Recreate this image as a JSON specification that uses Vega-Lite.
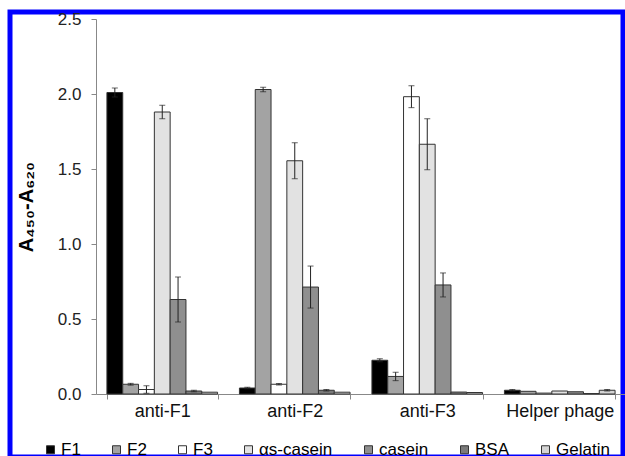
{
  "$schema": "https://vega.github.io/schema/vega-lite/v6.json",
  "width": 613,
  "height": 445,
  "autosize": {"type": "none"},
  "padding": {"left": 10, "top": 12, "right": 2, "bottom": 0},
  "background": "white",
  "config": {
    "view": {"stroke": "#0000ff", "strokeWidth": 5},
    "font": "Liberation Sans",
    "axis": {"domainColor": "#888888", "tickColor": "#888888", "labelFont": "Liberation Sans", "labelColor": "#222222", "grid": false, "tickSize": 5, "labelFontSize": 17},
    "axisX": {"offset": -63, "labelPadding": 3, "tickBand": "extent", "labelAngle": 0, "labelColor": "#111111", "labelFontSize": 18},
    "axisY": {"offset": -86, "labelPadding": 10, "titlePadding": 21, "titleFont": "Liberation Sans", "titleFontSize": 20, "titleFontWeight": "bold", "titleColor": "#000000"}
  },
  "data": {"values": [
    {"group": "anti-F1", "series": "F1", "value": 2.01, "lo": 1.98, "hi": 2.04},
    {"group": "anti-F1", "series": "F2", "value": 0.065, "lo": 0.059, "hi": 0.071},
    {"group": "anti-F1", "series": "F3", "value": 0.03, "lo": 0.005, "hi": 0.055},
    {"group": "anti-F1", "series": "αs-casein", "value": 1.88, "lo": 1.835, "hi": 1.925},
    {"group": "anti-F1", "series": "casein", "value": 0.63, "lo": 0.48, "hi": 0.78},
    {"group": "anti-F1", "series": "BSA", "value": 0.02, "lo": 0.015, "hi": 0.025},
    {"group": "anti-F1", "series": "Gelatin", "value": 0.012},
    {"group": "anti-F2", "series": "F1", "value": 0.04, "lo": 0.035, "hi": 0.045},
    {"group": "anti-F2", "series": "F2", "value": 2.03, "lo": 2.015, "hi": 2.045},
    {"group": "anti-F2", "series": "F3", "value": 0.065, "lo": 0.06, "hi": 0.07},
    {"group": "anti-F2", "series": "αs-casein", "value": 1.555, "lo": 1.435, "hi": 1.675},
    {"group": "anti-F2", "series": "casein", "value": 0.713, "lo": 0.573, "hi": 0.853},
    {"group": "anti-F2", "series": "BSA", "value": 0.025, "lo": 0.02, "hi": 0.03},
    {"group": "anti-F2", "series": "Gelatin", "value": 0.012},
    {"group": "anti-F3", "series": "F1", "value": 0.225, "lo": 0.215, "hi": 0.235},
    {"group": "anti-F3", "series": "F2", "value": 0.117, "lo": 0.089, "hi": 0.145},
    {"group": "anti-F3", "series": "F3", "value": 1.982, "lo": 1.909, "hi": 2.055},
    {"group": "anti-F3", "series": "αs-casein", "value": 1.665, "lo": 1.495, "hi": 1.835},
    {"group": "anti-F3", "series": "casein", "value": 0.727, "lo": 0.647, "hi": 0.807},
    {"group": "anti-F3", "series": "BSA", "value": 0.013},
    {"group": "anti-F3", "series": "Gelatin", "value": 0.01},
    {"group": "Helper phage", "series": "F1", "value": 0.025, "lo": 0.02, "hi": 0.03},
    {"group": "Helper phage", "series": "F2", "value": 0.018},
    {"group": "Helper phage", "series": "F3", "value": 0.006},
    {"group": "Helper phage", "series": "αs-casein", "value": 0.02},
    {"group": "Helper phage", "series": "casein", "value": 0.015},
    {"group": "Helper phage", "series": "BSA", "value": 0.003},
    {"group": "Helper phage", "series": "Gelatin", "value": 0.025, "lo": 0.02, "hi": 0.03}
  ]},
  "encoding": {
    "x": {"field": "group", "type": "nominal", "title": null, "sort": ["anti-F1", "anti-F2", "anti-F3", "Helper phage"], "scale": {"range": [86, 616], "paddingInner": 0.165, "paddingOuter": 0.0825}},
    "xOffset": {"field": "series", "type": "nominal", "sort": ["F1", "F2", "F3", "αs-casein", "casein", "BSA", "Gelatin"], "scale": {"paddingInner": 0, "paddingOuter": 0}}
  },
  "layer": [
    {
      "mark": {"type": "bar", "stroke": "#333333", "strokeWidth": 1},
      "encoding": {
        "y": {"field": "value", "type": "quantitative", "title": "A₄₅₀-A₆₂₀", "scale": {"domain": [0, 2.5], "range": [382, 7], "nice": false}, "axis": {"values": [0, 0.5, 1, 1.5, 2, 2.5], "format": ".1f"}},
        "color": {
          "field": "series", "type": "nominal",
          "scale": {"domain": ["F1", "F2", "F3", "αs-casein", "casein", "BSA", "Gelatin"], "range": ["#000000", "#a3a3a3", "#ffffff", "#e2e2e2", "#8f8f8f", "#7a7a7a", "#d4d4d4"]},
          "legend": {"orient": "none", "legendX": 32, "legendY": 429, "direction": "horizontal", "title": null, "symbolType": "square", "symbolSize": 64, "symbolStrokeColor": "#333333", "symbolStrokeWidth": 1, "labelFontSize": 17, "labelFont": "Liberation Sans", "labelColor": "#000000", "columnPadding": 27, "labelOffset": 2, "padding": 0}
        }
      }
    },
    {
      "mark": {"type": "rule", "color": "#222222", "strokeWidth": 1},
      "encoding": {
        "y": {"field": "lo", "type": "quantitative", "title": "A₄₅₀-A₆₂₀"},
        "y2": {"field": "hi"}
      }
    },
    {
      "mark": {"type": "tick", "color": "#222222", "size": 6, "thickness": 1},
      "encoding": {"y": {"field": "hi", "type": "quantitative", "title": "A₄₅₀-A₆₂₀"}}
    },
    {
      "mark": {"type": "tick", "color": "#222222", "size": 6, "thickness": 1},
      "encoding": {"y": {"field": "lo", "type": "quantitative", "title": "A₄₅₀-A₆₂₀"}}
    }
  ]
}
